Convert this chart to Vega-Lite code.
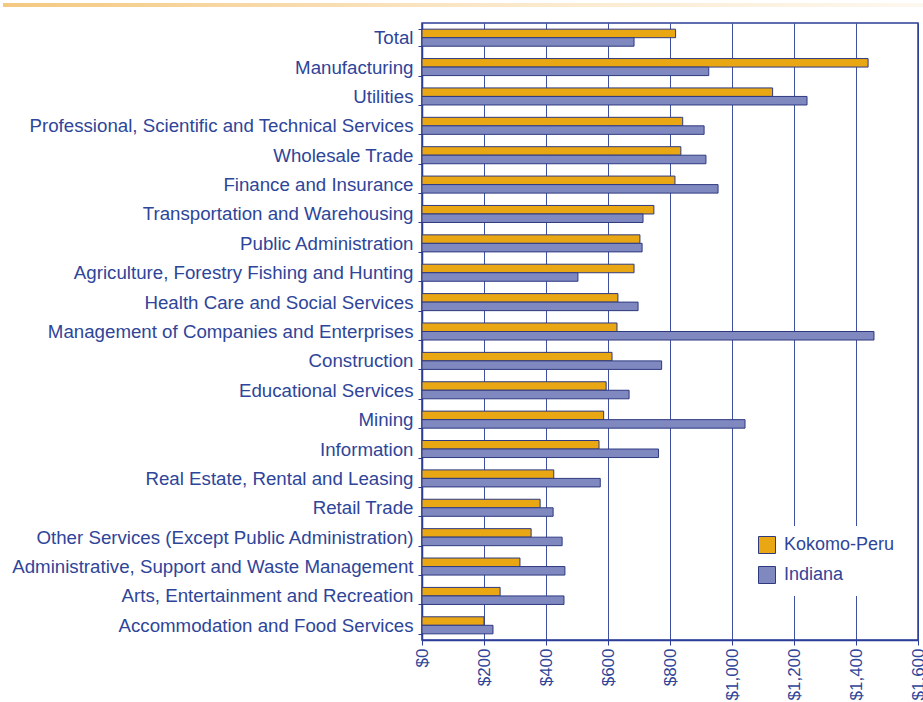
{
  "$schema": "https://vega.github.io/schema/vega-lite/v6.json",
  "padding": {"left": 3, "top": 3, "right": 0, "bottom": 0},
  "spacing": 6,
  "background": "white",
  "config": {"font": "Liberation Sans"},
  "vconcat": [
    {
      "width": 501,
      "height": 4,
      "view": {"stroke": null},
      "data": {"values": [{"a": -0.8363, "b": 1}]},
      "mark": {"type": "rect", "clip": false, "color": {"gradient": "linear", "x1": 0, "x2": 1, "y1": 0, "y2": 0, "stops": [{"offset": 0, "color": "#F4C880"}, {"offset": 0.5, "color": "#FAE6C6"}, {"offset": 1, "color": "#FDF8EF"}]}},
      "encoding": {
        "x": {"field": "a", "type": "quantitative", "axis": null, "scale": {"domain": [0, 1], "nice": false}},
        "x2": {"field": "b"}
      }
    },
    {
      "width": 496,
      "height": 617,
      "view": {"stroke": "#2B3D96", "strokeWidth": 1.5},
      "data": {"values": [
        {"industry": "Total", "area": "Kokomo-Peru", "wage": 818},
        {"industry": "Total", "area": "Indiana", "wage": 684},
        {"industry": "Manufacturing", "area": "Kokomo-Peru", "wage": 1439},
        {"industry": "Manufacturing", "area": "Indiana", "wage": 925},
        {"industry": "Utilities", "area": "Kokomo-Peru", "wage": 1131},
        {"industry": "Utilities", "area": "Indiana", "wage": 1242},
        {"industry": "Professional, Scientific and Technical Services", "area": "Kokomo-Peru", "wage": 841},
        {"industry": "Professional, Scientific and Technical Services", "area": "Indiana", "wage": 910},
        {"industry": "Wholesale Trade", "area": "Kokomo-Peru", "wage": 835},
        {"industry": "Wholesale Trade", "area": "Indiana", "wage": 916},
        {"industry": "Finance and Insurance", "area": "Kokomo-Peru", "wage": 816},
        {"industry": "Finance and Insurance", "area": "Indiana", "wage": 955},
        {"industry": "Transportation and Warehousing", "area": "Kokomo-Peru", "wage": 748},
        {"industry": "Transportation and Warehousing", "area": "Indiana", "wage": 713},
        {"industry": "Public Administration", "area": "Kokomo-Peru", "wage": 703},
        {"industry": "Public Administration", "area": "Indiana", "wage": 710},
        {"industry": "Agriculture, Forestry Fishing and Hunting", "area": "Kokomo-Peru", "wage": 684},
        {"industry": "Agriculture, Forestry Fishing and Hunting", "area": "Indiana", "wage": 503},
        {"industry": "Health Care and Social Services", "area": "Kokomo-Peru", "wage": 632},
        {"industry": "Health Care and Social Services", "area": "Indiana", "wage": 697},
        {"industry": "Management of Companies and Enterprises", "area": "Kokomo-Peru", "wage": 629},
        {"industry": "Management of Companies and Enterprises", "area": "Indiana", "wage": 1458},
        {"industry": "Construction", "area": "Kokomo-Peru", "wage": 613},
        {"industry": "Construction", "area": "Indiana", "wage": 773},
        {"industry": "Educational Services", "area": "Kokomo-Peru", "wage": 594},
        {"industry": "Educational Services", "area": "Indiana", "wage": 668},
        {"industry": "Mining", "area": "Kokomo-Peru", "wage": 586},
        {"industry": "Mining", "area": "Indiana", "wage": 1042},
        {"industry": "Information", "area": "Kokomo-Peru", "wage": 571},
        {"industry": "Information", "area": "Indiana", "wage": 763},
        {"industry": "Real Estate, Rental and Leasing", "area": "Kokomo-Peru", "wage": 425},
        {"industry": "Real Estate, Rental and Leasing", "area": "Indiana", "wage": 575},
        {"industry": "Retail Trade", "area": "Kokomo-Peru", "wage": 381},
        {"industry": "Retail Trade", "area": "Indiana", "wage": 423},
        {"industry": "Other Services (Except Public Administration)", "area": "Kokomo-Peru", "wage": 352},
        {"industry": "Other Services (Except Public Administration)", "area": "Indiana", "wage": 452},
        {"industry": "Administrative, Support and Waste Management", "area": "Kokomo-Peru", "wage": 316},
        {"industry": "Administrative, Support and Waste Management", "area": "Indiana", "wage": 461},
        {"industry": "Arts, Entertainment and Recreation", "area": "Kokomo-Peru", "wage": 252},
        {"industry": "Arts, Entertainment and Recreation", "area": "Indiana", "wage": 458},
        {"industry": "Accommodation and Food Services", "area": "Kokomo-Peru", "wage": 200},
        {"industry": "Accommodation and Food Services", "area": "Indiana", "wage": 229}
      ]},
      "mark": {"type": "bar", "stroke": "#2E3A80", "strokeWidth": 1},
      "encoding": {
        "y": {
          "field": "industry", "type": "nominal", "sort": null,
          "scale": {"paddingInner": 0.42, "paddingOuter": 0.21},
          "axis": {"title": null, "labelFontSize": 18.7, "labelColor": "#2E4599", "labelLimit": 0, "tickBand": "extent", "tickSize": 4, "tickColor": "#2B3D96", "domainColor": "#2B3D96", "domainWidth": 1.5, "labelPadding": 5, "grid": false}
        },
        "x": {
          "field": "wage", "type": "quantitative",
          "scale": {"domain": [0, 1600], "nice": false},
          "axis": {"title": null, "values": [0, 200, 400, 600, 800, 1000, 1200, 1400, 1600], "format": "$,d", "labelAngle": 270, "labelFontSize": 17, "labelColor": "#2E4599", "grid": true, "gridColor": "#2B3D96", "gridWidth": 1, "gridOpacity": 0.9, "tickColor": "#2B3D96", "tickSize": 5, "domainColor": "#2B3D96", "domainWidth": 1.5, "labelPadding": 3, "labelFlush": false, "labelOverlap": false}
        },
        "yOffset": {"field": "area", "sort": ["Kokomo-Peru", "Indiana"], "scale": {"paddingInner": 0}},
        "color": {
          "field": "area", "type": "nominal",
          "scale": {"domain": ["Kokomo-Peru", "Indiana"], "range": ["#E8A713", "#8088C0"]},
          "legend": {"title": null, "orient": "none", "legendX": 326, "legendY": 523, "fillColor": "white", "padding": 10, "symbolType": "square", "symbolSize": 289, "symbolStrokeColor": "#2E3A80", "symbolStrokeWidth": 1, "labelFontSize": 18, "labelColor": "#2E4599", "rowPadding": 8, "labelOffset": 8}
        }
      }
    }
  ]
}
